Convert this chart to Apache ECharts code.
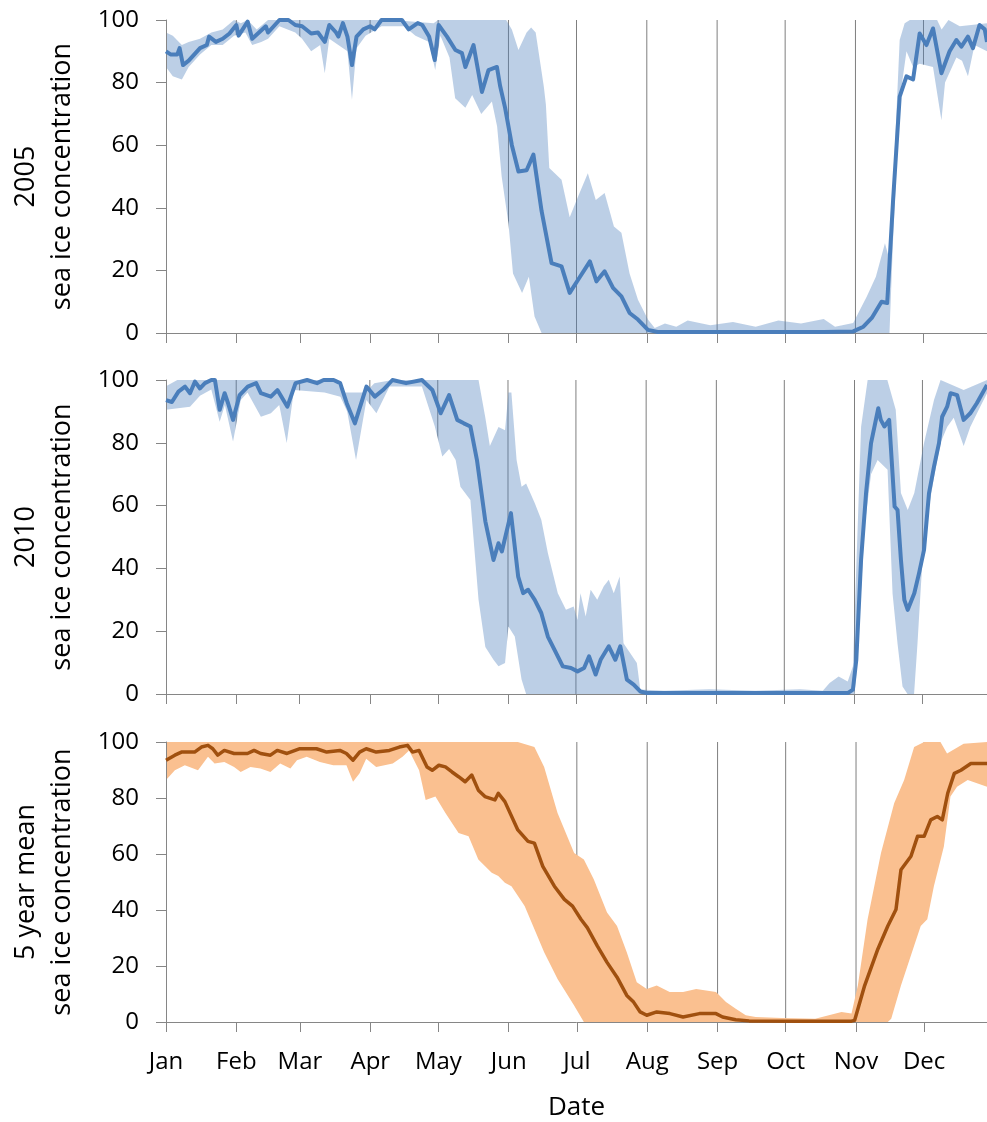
<!DOCTYPE html>
<html>
<head>
<meta charset="utf-8">
<script src="https://cdn.jsdelivr.net/npm/echarts@6/dist/echarts.min.js"></script>
<style>
  html, body { margin: 0; padding: 0; background: #fff; }
  #chart { width: 987px; height: 1122px; }
</style>
</head>
<body>
<div id="chart"></div>
<script>
// month ticks (day of year, 0 = 1 Jan)
var monthStarts = [0, 31, 59, 90, 120, 151, 181, 212, 243, 273, 304, 334];
var monthNames = ["Jan", "Feb", "Mar", "Apr", "May", "Jun", "Jul", "Aug", "Sep", "Oct", "Nov", "Dec"];
var yTicks = [0, 20, 40, 60, 80, 100];

// 2005: [day, sea ice concentration]
var mean2005 = [[0,90],[2,89],[5,89],[6,91],[7.5,85.6],[10,87],[15,91],[18,92],[19,94.7],[22,93],[25,94],[28,95.7],[31,98.4],[32,95],[36,99.5],[38,94],[41,96],[44,98],[45,96],[50,100],[54,100],[57,98.4],[60,98],[64,95.7],[67,96],[70,93],[72,98.4],[75,96],[76,94.7],[78,99],[80,94.7],[82,85.6],[84,94.7],[87,97],[90,98],[92,97],[95,100],[104,100],[107,97],[111,99],[113,98.4],[116,94.7],[118.5,87.2],[120.2,98.4],[123.9,94.7],[127.6,90.4],[130.5,89.4],[132,85],[135.6,92],[139.3,77],[142.2,84],[145.9,85],[147.3,79],[149.5,72],[152.5,60],[155.4,51.6],[159,52],[162,57],[165.6,39],[170,22.3],[174.4,21.3],[178,12.8],[181.7,17],[186.9,22.9],[189.8,16.5],[193.4,19.7],[197.1,14.4],[200.8,11.7],[204.4,6.4],[208.1,4.3],[212.5,1],[216.8,0.3],[230,0.3],[260,0.3],[290,0.3],[303,0.5],[307.5,2],[311.2,4.8],[315.5,10],[318,9.6],[320.6,42.5],[323.5,75.5],[326.5,82],[329.4,81],[332.3,95.7],[335.3,92],[338.2,97.3],[341.9,83],[345.5,90],[348.5,93.6],[350.7,91.5],[353.6,94.7],[355.8,91],[358.7,98.4],[361,97],[362,93]];
var upper2005 = [[0,96],[3,95],[7,92],[10,93],[15,94],[20,96],[25,97],[30,100],[33,99],[36,100],[40,97],[45,100],[60,100],[100,100],[118,99],[120,100],[150,100],[152.5,97],[155.4,90.4],[159,96],[161,97.6],[163,96],[166.6,78.7],[167.5,73],[169,52.7],[174.4,49],[178,37],[181.7,43.6],[186,51],[189.5,42.5],[193.4,44.7],[197.5,34],[200.8,32],[204.4,19],[208.1,10.6],[212.5,4.3],[215.5,1.6],[220,3],[225,2],[230,4],[240,2.5],[250,3.5],[260,2],[270,4],[280,3],[290,4.5],[295,2],[303,3.2],[309,11.7],[313,18],[317,28.7],[319,23.4],[321,53],[323.5,93.6],[325.7,99],[328,100],[340,100],[342,97],[345,100],[350,98],[362,99]];
var lower2005 = [[0,85],[3,82],[7,81],[10,85],[15,89],[20,92],[25,92],[30,95],[35,96],[38,92],[42,93],[45,94],[50,98],[57,96],[60,94],[64,90],[68,92],[70,83],[72,94],[76,92],[80,90],[82,74.5],[84,91],[88,95],[95,98],[105,98],[110,95],[116,93],[118.7,84],[121,95],[125,88],[127.5,75],[132,72],[135,76],[139,70],[143.7,74],[146,66],[148,50],[151,35],[153,19],[157,12.8],[160,18],[162.5,5.3],[165.6,0],[319,0],[320.6,30],[323.5,74.5],[326.5,90],[329.4,85],[332.3,86],[338.2,85],[341.9,68],[343.5,80],[348.5,88],[351,87],[353.6,82],[356.5,92],[362,90]];

// 2010
var mean2010 = [[0,93.6],[2.6,93],[5.5,96.3],[8.4,97.9],[10.6,95.8],[12.8,99.5],[15,97.3],[17.2,99],[20,100],[21.6,100],[23.7,90.5],[25.9,95.8],[27.4,92.6],[29.6,87.3],[32.5,95.2],[36.1,97.9],[39.8,99],[41.9,95.8],[46.3,94.7],[49.2,96.8],[53.6,91.5],[57.2,99],[62.3,100],[66.7,99],[69.6,100],[74,100],[76.9,99],[79.8,92.6],[83.4,86.2],[88.5,97.9],[92.2,94.7],[95.8,96.8],[100,100],[106,99],[113,100],[117.6,96.8],[121.3,89.4],[125,95.2],[128.6,87.3],[131.5,86.2],[134.4,85.2],[137.3,74.5],[141,55],[144.6,42.7],[146.8,48],[148.3,45.4],[152.3,57.6],[155.5,37.4],[157.7,32.1],[159.9,33.2],[162.8,30],[165.7,25.8],[168.6,18.3],[171.5,14.1],[175.2,8.8],[178.8,8.3],[181.7,7.2],[184.6,8.3],[186.8,12],[189.7,6.2],[191.9,10.9],[195.5,15.2],[198.4,10.9],[200.6,15.2],[203.5,4.6],[206.5,3],[209.4,0.8],[212.3,0.3],[240,0.3],[270,0.3],[301,0.3],[303.3,1.4],[304.8,10.9],[306.9,42.7],[309.1,64],[311.3,79.9],[314.5,91],[315.6,87.3],[317.2,85.2],[319.3,87.3],[321.7,59.7],[323,58.6],[324.5,42.7],[326,30],[327.5,26.8],[330.4,32.1],[332.5,38.5],[334.7,45.9],[336.9,64],[339.1,72.4],[341.3,79.9],[342.7,88.3],[344.9,91.5],[346.4,95.8],[349.3,95.2],[352.2,87.3],[355.1,89.4],[358,92.6],[362.5,98.4]];
var upper2010 = [[0,98],[5,100],[75,100],[78,96],[88,96],[92,99],[100,100],[138,100],[141,88],[143,79],[146.8,85],[149.7,84],[151.2,96],[152.5,96],[154.8,74.5],[157,66],[159,67],[162.8,60.8],[165.7,55.5],[168.6,44.9],[173,32.1],[176.6,26.8],[180,27.9],[181.7,23.6],[183,32.1],[185.3,24.7],[187.5,33.2],[190.4,30],[193.3,34.3],[195.5,36.4],[197.7,32.1],[200.3,37.4],[202,16.2],[205,13],[207.9,9.9],[209.4,1.4],[220,1],[240,1.5],[260,1],[280,1.5],[290,1],[293,3.5],[297,5.6],[301,4],[303.3,8.8],[306.9,85],[309.8,100],[318.5,100],[322.2,90.5],[324.5,64],[327.5,58.6],[330.4,64],[334.7,79.9],[339.1,93.6],[342,100],[352.2,96.8],[362.5,100]];
var lower2010 = [[0,90.5],[10.6,91.5],[15,95],[20,97],[23.7,86.7],[26,92],[29.6,80.4],[33,93.6],[36,96],[41.9,88.3],[46.3,89.4],[50,92],[53.3,79.9],[56.5,96.8],[70,96],[77,94.7],[80,90],[83.9,74.5],[88.5,93.6],[92.9,89.4],[98.7,97.9],[113,97.9],[118.7,85.2],[122,75.6],[125,78],[127.9,74.5],[130,66],[134.4,61.8],[138,30],[141,15],[144.6,10.9],[146.8,8.8],[149.7,9.9],[151.2,21.5],[154,18.3],[157,4.6],[159,0],[304,0],[305,8],[308.4,53],[311.3,70],[314.2,74.5],[318.6,71.4],[320.8,32],[323,16],[325.2,2.4],[327.4,0],[330.3,0],[331.8,16],[334,42.7],[336.2,56.5],[339.1,69],[342,80],[344.9,85],[347.8,88],[352.2,79],[355.1,85],[359.5,91.5],[362.5,95.8]];

// 5 year mean
var mean5yr = [[0,93.5],[3.9,95.3],[6.8,96.4],[12.6,96.4],[15.6,98.2],[18.5,98.8],[20.6,97.6],[22.8,95.3],[25.7,97],[30,95.9],[35.9,95.9],[38.8,97],[41.7,95.9],[46,95.3],[49,97],[53.3,95.9],[59,97.6],[66.3,97.6],[70.8,96.4],[76.6,97],[79.5,95.9],[82.4,93.5],[85.3,96.4],[88.2,97.6],[92.6,96.4],[98.4,97],[102.8,98.2],[106.4,98.8],[108.6,96.4],[111.5,97],[115,91.1],[117.3,89.9],[120.2,91.7],[123.1,91.1],[126,89.3],[128.9,87.6],[131.8,85.8],[134.7,88.2],[137.6,82.8],[140.5,80.5],[144.9,79.3],[146.4,81.7],[149.3,78.7],[155,68.6],[159.5,64.5],[162.3,63.9],[166,55.6],[171.1,48.5],[175.5,43.8],[179.1,41.4],[182.8,36.7],[185.6,33.7],[190,27.2],[194.3,21.3],[198.7,16],[203,9.5],[206,7.1],[208.9,3.6],[211.8,2.4],[216.2,3.6],[222,3],[227.8,1.8],[235,3],[242.3,3],[245.2,1.8],[251,0.8],[256.9,0.4],[280,0.3],[302,0.3],[303.4,0.6],[307.8,13],[313.6,26],[318,34.3],[321.6,40.2],[323.8,54.4],[328.2,59.2],[331.1,66.3],[334,66.3],[336.9,72.2],[339.8,73.4],[342,72.2],[344.4,81.7],[347.3,88.8],[350.2,89.9],[354.6,92.3],[361.7,92.3]];
var upper5yr = [[0,100],[155,100],[162.3,98.2],[166.6,91.1],[172.5,74.6],[179.8,60.4],[184.1,58],[188.5,50.9],[194.3,39.1],[198.7,34.3],[203,24.9],[207.4,14.2],[211.8,11.8],[216.2,13],[221.9,10.7],[227.8,10.7],[233.6,11.8],[242.3,10.7],[246.7,7.1],[251,4.7],[255.4,2.4],[259.8,1.8],[271.4,1.4],[286,1.2],[297.6,3.6],[302,3],[304.8,13],[309.1,36.7],[315,60.4],[320.8,78.1],[325.2,86.4],[329.6,98.2],[334,100],[341.2,100],[344.1,95.9],[351.4,99.4],[361.7,100]];
var lower5yr = [[0,86.4],[3.9,89.9],[8.3,91.7],[14.1,89.9],[18.5,94.7],[21.4,92.3],[25.7,92.9],[30,91.1],[32.9,89.3],[37.2,91.1],[41.6,90.5],[46,89.3],[50.3,92.3],[54.8,90.5],[57.7,93.5],[62,94.7],[67.8,92.9],[73.7,91.7],[79.5,91.7],[82.4,85.8],[85.3,88.8],[88.2,94],[92.6,91.1],[99.9,92.3],[104.2,94.7],[107.1,97],[111.5,89.9],[114.4,79.3],[118.7,80.5],[123.1,74.6],[128.9,67.5],[133.3,66.3],[137.6,58],[143.5,53.3],[146.4,52.1],[149.3,49.7],[152.2,48.5],[158,41.4],[166.6,24.9],[172.5,15.4],[179.8,5.9],[184.1,0],[318,0],[319.5,1.2],[323.8,13],[329.6,27.2],[332.5,34.3],[335.4,36.7],[338.3,48.5],[342.7,62.7],[345.6,80.5],[348.5,84],[353.2,86.4],[357.6,85.2],[361.7,84]];

var panels = [
    {title: "2005\nsea ice concentration", mean: mean2005, upper: upper2005, lower: lower2005,
     line: "#4a7ebb", band: "rgba(79,129,189,0.38)", left: 163, top: 20, height: 313, xmax: 362},
    {title: "2010\nsea ice concentration", mean: mean2010, upper: upper2010, lower: lower2010,
     line: "#4a7ebb", band: "rgba(79,129,189,0.38)", left: 157, top: 380, height: 314, xmax: 362.5},
    {title: "5 year mean\nsea ice concentration", mean: mean5yr, upper: upper5yr, lower: lower5yr,
     line: "#a0500f", band: "#fac090", left: 158, top: 742, height: 281, xmax: 361.7}
];

var font = "'Open Sans', sans-serif";
var axisGray = "#868686";

// vertical month lines, drawn under the bands (the white area below the band hides them)
function monthLine(params, api) {
    var top = api.coord([api.value(0), 100]);
    var bottom = api.coord([api.value(0), 0]);
    return {
        type: "line",
        shape: {x1: top[0], y1: top[1], x2: bottom[0], y2: bottom[1]},
        style: {stroke: "#7f7f7f", lineWidth: 1}
    };
}

var option = {
    backgroundColor: "#fff",
    animation: false,
    grid: [], xAxis: [], yAxis: [], series: []
};

for (var i = 0; i < panels.length; i++) {
    var p = panels[i];
    var last = (i == panels.length - 1);
    option.grid.push({left: p.left, right: 0, top: p.top, height: p.height});
    option.xAxis.push({
        gridIndex: i, type: "value", min: 0, max: p.xmax, position: "bottom", z: 10,
        axisLine: {show: true, onZero: false, lineStyle: {color: axisGray}},
        axisTick: {show: true, length: 10, customValues: monthStarts, lineStyle: {color: axisGray}},
        axisLabel: {
            show: last, customValues: monthStarts, margin: 28,
            fontFamily: font, fontSize: 24, color: "#000",
            formatter: function (v) { return monthNames[monthStarts.indexOf(v)]; }
        },
        splitLine: {show: false},
        name: last ? "Date" : "", nameLocation: "middle", nameGap: 73,
        nameTextStyle: {fontFamily: font, fontSize: 26, color: "#000"}
    });
    option.yAxis.push({
        gridIndex: i, type: "value", min: 0, max: 100, interval: 20, z: 10,
        axisLine: {show: true, lineStyle: {color: axisGray}},
        axisTick: {show: true, length: 10, lineStyle: {color: axisGray}},
        axisLabel: {margin: 27, fontFamily: font, fontSize: 24, color: "#000"},
        splitLine: {show: false},
        name: p.title, nameLocation: "middle", nameRotate: 90, nameGap: 86,
        nameTextStyle: {fontFamily: font, fontSize: 27, color: "#000", lineHeight: 36, align: "center"}
    });
    option.series.push({
        name: "months" + i, type: "custom", xAxisIndex: i, yAxisIndex: i, z: 1,
        data: monthStarts.slice(1).map(function (d) { return [d]; }),
        renderItem: monthLine, silent: true
    });
    option.series.push({
        name: "upper" + i, type: "line", xAxisIndex: i, yAxisIndex: i, z: 2,
        data: p.upper, showSymbol: false, symbol: "none",
        lineStyle: {width: 0}, areaStyle: {color: p.band, opacity: 1}
    });
    option.series.push({
        name: "lower" + i, type: "line", xAxisIndex: i, yAxisIndex: i, z: 3,
        data: p.lower, showSymbol: false, symbol: "none",
        lineStyle: {width: 0}, areaStyle: {color: "#ffffff", opacity: 1}
    });
    option.series.push({
        name: "mean" + i, type: "line", xAxisIndex: i, yAxisIndex: i, z: 12,
        data: p.mean, showSymbol: false, symbol: "none",
        lineStyle: {width: i == 2 ? 3.5 : 4, color: p.line, join: "round"}
    });
}

var myChart = echarts.init(document.getElementById("chart"));
myChart.setOption(option);
window.onresize = myChart.resize;
</script>
</body>
</html>
